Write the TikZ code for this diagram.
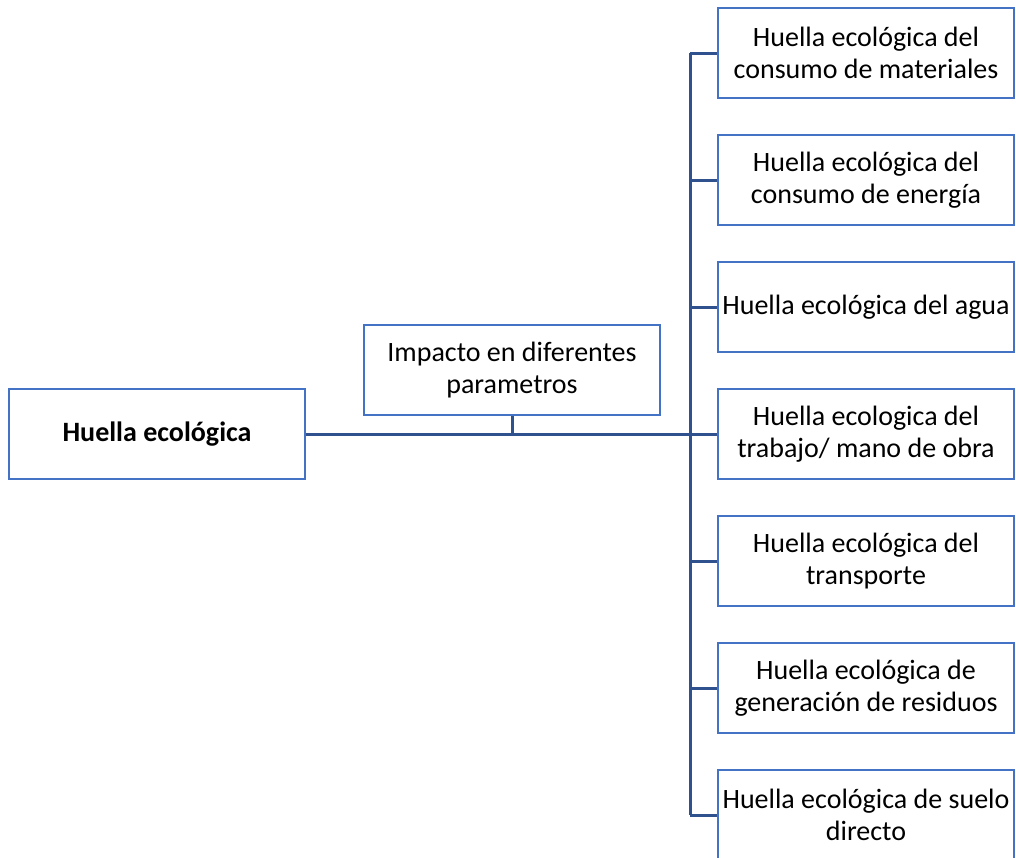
\documentclass[tikz,border=0pt]{standalone}
\usepackage{fontspec}
\setmainfont{Carlito}
\definecolor{boxblue}{HTML}{4472C4}
\definecolor{linkblue}{HTML}{2F528F}
\tikzset{
  hbox/.style={draw=boxblue, line width=2.5pt, rectangle, minimum width=296pt, minimum height=90pt,
    align=center, inner sep=1pt, font=\fontsize{28}{32}\selectfont},
  link/.style={draw=linkblue, line width=3pt}
}
\begin{document}
\begin{tikzpicture}[x=1pt,y=-1pt]
\useasboundingbox (0,0) rectangle (1016,857);
\node[hbox, font=\fontsize{28}{32}\selectfont\bfseries] (main) at (157,434) {Huella ecológica};
\node[hbox] (imp) at (512,370) {Impacto en diferentes\\parametros};
\node[hbox] (b1) at (866,53) {Huella ecológica del\\consumo de materiales};
\node[hbox] (b2) at (866,180) {Huella ecológica del\\consumo de energía};
\node[hbox] (b3) at (866,307) {Huella ecológica del agua};
\node[hbox] (b4) at (866,434) {Huella ecologica del\\trabajo/ mano de obra};
\node[hbox] (b5) at (866,561) {Huella ecológica del\\transporte};
\node[hbox] (b6) at (866,688) {Huella ecológica de\\generación de residuos};
\node[hbox] (b7) at (866,815) {Huella ecológica de suelo\\directo};
\coordinate (top) at (690,53);
\coordinate (bot) at (690,815);
\coordinate (junc) at (690,434);
\draw[link] (main.east) -- (junc);
\draw[link] (imp.south) -- (imp.south |- main.east);
\draw[link] (top) -- (bot);
\foreach \b in {b1,b2,b3,b4,b5,b6,b7}{
  \draw[link] (\b.west -| top) -- (\b.west);
}
\end{tikzpicture}
\end{document}
